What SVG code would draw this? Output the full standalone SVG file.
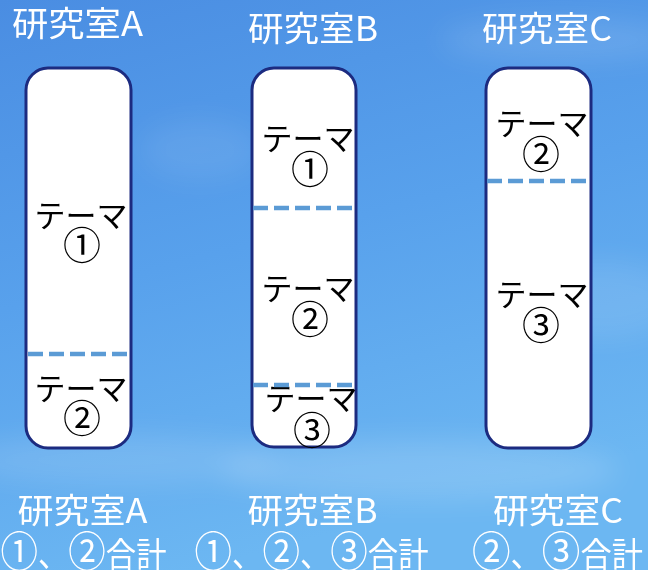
<svg xmlns="http://www.w3.org/2000/svg" width="648" height="570" viewBox="0 0 648 570">
<defs>
<linearGradient id="sky" x1="0" y1="0" x2="0.3" y2="1">
<stop offset="0" stop-color="#4a8de2"/>
<stop offset="0.5" stop-color="#58a1ec"/>
<stop offset="1" stop-color="#6cb7f2"/>
</linearGradient>
<filter id="blur" x="-50%" y="-50%" width="200%" height="200%"><feGaussianBlur stdDeviation="14"/></filter>
<style>
.lbl{font-family:"Noto Sans CJK JP","Noto Sans",sans-serif;font-size:34px;fill:#ffffff;text-anchor:middle}
.box{fill:#ffffff;stroke:#1c2b80;stroke-width:3}
.dash{stroke:#5b9bd5;stroke-width:4.5;stroke-dasharray:15 6;fill:none}
.t{font-family:"Noto Sans CJK JP","Noto Sans",sans-serif;font-size:31px;fill:#000000;text-anchor:middle}
.n{font-family:"Noto Sans CJK JP","Noto Sans",sans-serif;font-size:38px;fill:#000000;text-anchor:middle}
.c{font-size:42px}
</style>
</defs>
<rect width="648" height="570" fill="url(#sky)"/>
<g filter="url(#blur)" fill="#ffffff">
<ellipse cx="560" cy="40" rx="120" ry="20" opacity="0.12"/>
<ellipse cx="420" cy="470" rx="200" ry="30" opacity="0.15"/>
<ellipse cx="120" cy="460" rx="160" ry="25" opacity="0.12"/>
<ellipse cx="600" cy="300" rx="80" ry="40" opacity="0.1"/>
<ellipse cx="200" cy="150" rx="60" ry="30" opacity="0.08"/>
</g>
<g id="titles">
<text class="lbl" x="77.5" y="36" textLength="131" lengthAdjust="spacingAndGlyphs">研究室A</text>
<text class="lbl" x="313" y="41" textLength="130" lengthAdjust="spacingAndGlyphs">研究室B</text>
<text class="lbl" x="547" y="41" textLength="130" lengthAdjust="spacingAndGlyphs">研究室C</text>
</g>
<g id="labA">
<rect class="box" x="26" y="68" width="105" height="380" rx="22"/>
<text class="t" x="81" y="227">テーマ</text>
<text class="n" x="82" y="259">①</text>
<text class="t" x="81" y="400">テーマ</text>
<text class="n" x="82" y="432">②</text>
</g>
<g id="labB">
<rect class="box" x="252" y="68" width="104" height="379" rx="22"/>
<text class="t" x="308" y="150">テーマ</text>
<text class="n" x="310" y="183">①</text>
<text class="t" x="308" y="300">テーマ</text>
<text class="n" x="310" y="333">②</text>
<text class="t" x="311" y="410">テーマ</text>
<text class="n" x="312" y="444">③</text>
</g>
<g id="labC">
<rect class="box" x="486" y="68" width="105" height="380" rx="22"/>
<text class="t" x="542" y="135">テーマ</text>
<text class="n" x="541" y="168">②</text>
<text class="t" x="542" y="306">テーマ</text>
<text class="n" x="541" y="339">③</text>
</g>
<g id="connectors">
<line class="dash" x1="28" y1="354" x2="130" y2="354"/>
<line class="dash" x1="253" y1="208" x2="356" y2="208"/>
<line class="dash" x1="253" y1="385" x2="356" y2="385"/>
<line class="dash" x1="487" y1="181" x2="591" y2="181"/>
</g>
<g id="totals">
<text class="lbl" x="82.5" y="523" textLength="130" lengthAdjust="spacingAndGlyphs">研究室A</text>
<text class="lbl" x="312.5" y="523" textLength="130" lengthAdjust="spacingAndGlyphs">研究室B</text>
<text class="lbl" x="558" y="523" textLength="130" lengthAdjust="spacingAndGlyphs">研究室C</text>
<text class="lbl" x="83.5" y="567" textLength="166" lengthAdjust="spacingAndGlyphs"><tspan class="c">①</tspan>、<tspan class="c">②</tspan>合計</text>
<text class="lbl" x="311.5" y="567" textLength="234" lengthAdjust="spacingAndGlyphs"><tspan class="c">①</tspan>、<tspan class="c">②</tspan>、<tspan class="c">③</tspan>合計</text>
<text class="lbl" x="557.5" y="567" textLength="171" lengthAdjust="spacingAndGlyphs"><tspan class="c">②</tspan>、<tspan class="c">③</tspan>合計</text>
</g>
</svg>
